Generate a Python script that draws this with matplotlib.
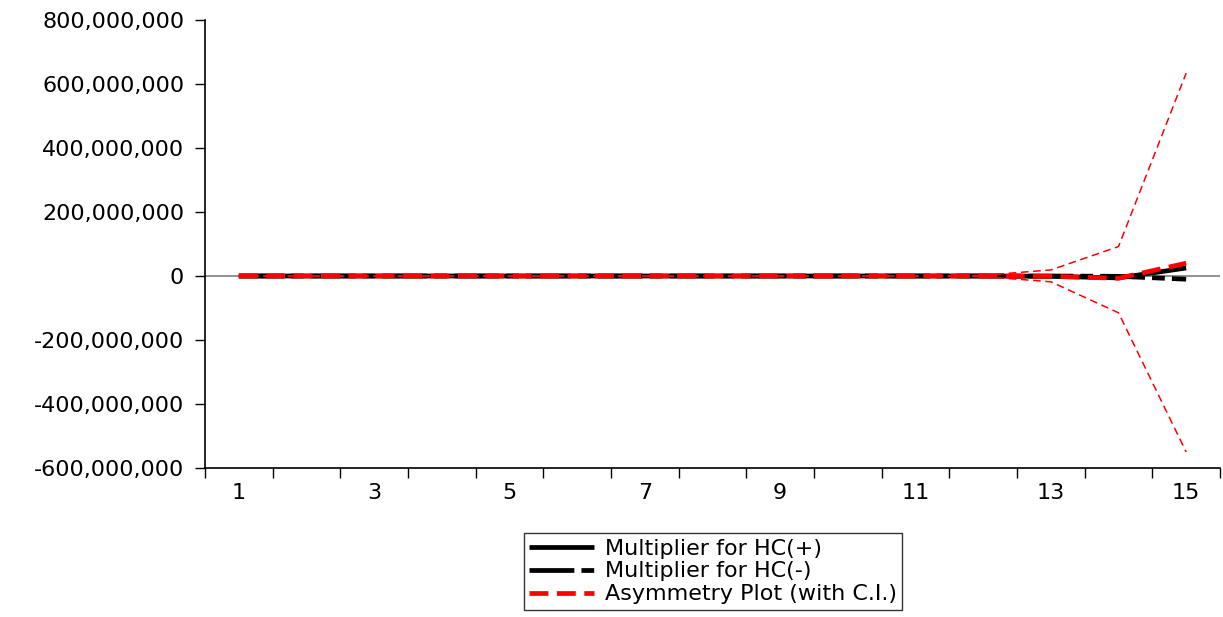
import matplotlib
matplotlib.use("Agg")
import matplotlib.pyplot as plt
from matplotlib.ticker import FuncFormatter, FixedLocator
import numpy as np

plt.rcParams['font.family'] = ['DejaVu Sans']

periods = list(range(1, 16))
hc_pos = [0, 0, 0, 0, 0, 0, 0, 0, 0, 0, 0, 0, -1e6, -6e6, 25e6]
hc_neg = [0, 0, 0, 0, 0, 0, 0, 0, 0, 0, 0, 0, 0, -1e6, -10e6]
asym = [0, 0, 0, 0, 0, 0, 0, 0, 0, 0, 0, 0, -1e6, -7e6, 40e6]
ci_upper = [0, 0, 0, 0, 0, 0, 0, 0, 0, 0, 0, 2e6, 19e6, 92e6, 634e6]
ci_lower = [0, 0, 0, 0, 0, 0, 0, 0, 0, 0, 0, -2e6, -18e6, -115e6, -550e6]
x_labels = ['1', '3', '5', '7', '9', '11', '13', '15']

W, H = 1223, 617
fig = plt.figure(figsize=(W / 100, H / 100), dpi=100)
ax = fig.add_axes([205 / W, 1 - 468 / H, (1220 - 205) / W, (468 - 20) / H])

ax.axhline(0, color='#808080', lw=1.2, zorder=1)
l1, = ax.plot(periods, hc_pos, color='black', lw=3.4, solid_capstyle='butt', zorder=3,
              label='Multiplier for HC(+)')
l2, = ax.plot(periods, hc_neg, color='black', lw=3.4, dashes=(9.5, 1.5, 2.7, 1.5), zorder=3,
              label='Multiplier for HC(-)')
l3, = ax.plot(periods, asym, color='#ff0000', lw=3.4, dashes=(4, 1.8), zorder=4,
              label='Asymmetry Plot (with C.I.)')
ax.plot(periods, ci_upper, color='#ff0000', lw=1.1, dashes=(5, 3), zorder=4)
ax.plot(periods, ci_lower, color='#ff0000', lw=1.1, dashes=(5, 3), zorder=4)

ax.set_xlim(0.5, 15.5)
ax.set_ylim(-600e6, 800e6)
ax.set_yticks(np.arange(-600e6, 800e6 + 1, 200e6))
ax.yaxis.set_major_formatter(FuncFormatter(lambda v, p: f"{int(round(v)):,}"))

ax.xaxis.set_major_locator(FixedLocator(np.arange(0.5, 15.6, 1.0)))
ax.set_xticklabels([])
ax.set_xticks([int(s) for s in x_labels], minor=True)
ax.set_xticklabels(x_labels, minor=True)
ax.tick_params(axis='x', which='major', length=7, width=1, direction='out')
ax.tick_params(axis='x', which='minor', length=0, pad=11, labelsize=16)
ax.tick_params(axis='y', which='major', length=7, width=1, direction='out', labelsize=16, pad=8)

for s in ['top', 'right']:
    ax.spines[s].set_visible(False)
for s in ['left', 'bottom']:
    ax.spines[s].set_linewidth(1.2)

leg = fig.legend(handles=[l1, l2, l3], loc='upper center',
                 bbox_to_anchor=(713 / W, 1 - 533 / H), fontsize=16,
                 frameon=True, fancybox=False, edgecolor='black',
                 handlelength=2.9, handletextpad=0.5, borderpad=0.25,
                 labelspacing=0.13, borderaxespad=0)
leg.get_frame().set_linewidth(1.0)

fig.savefig('out.png', dpi=100)
